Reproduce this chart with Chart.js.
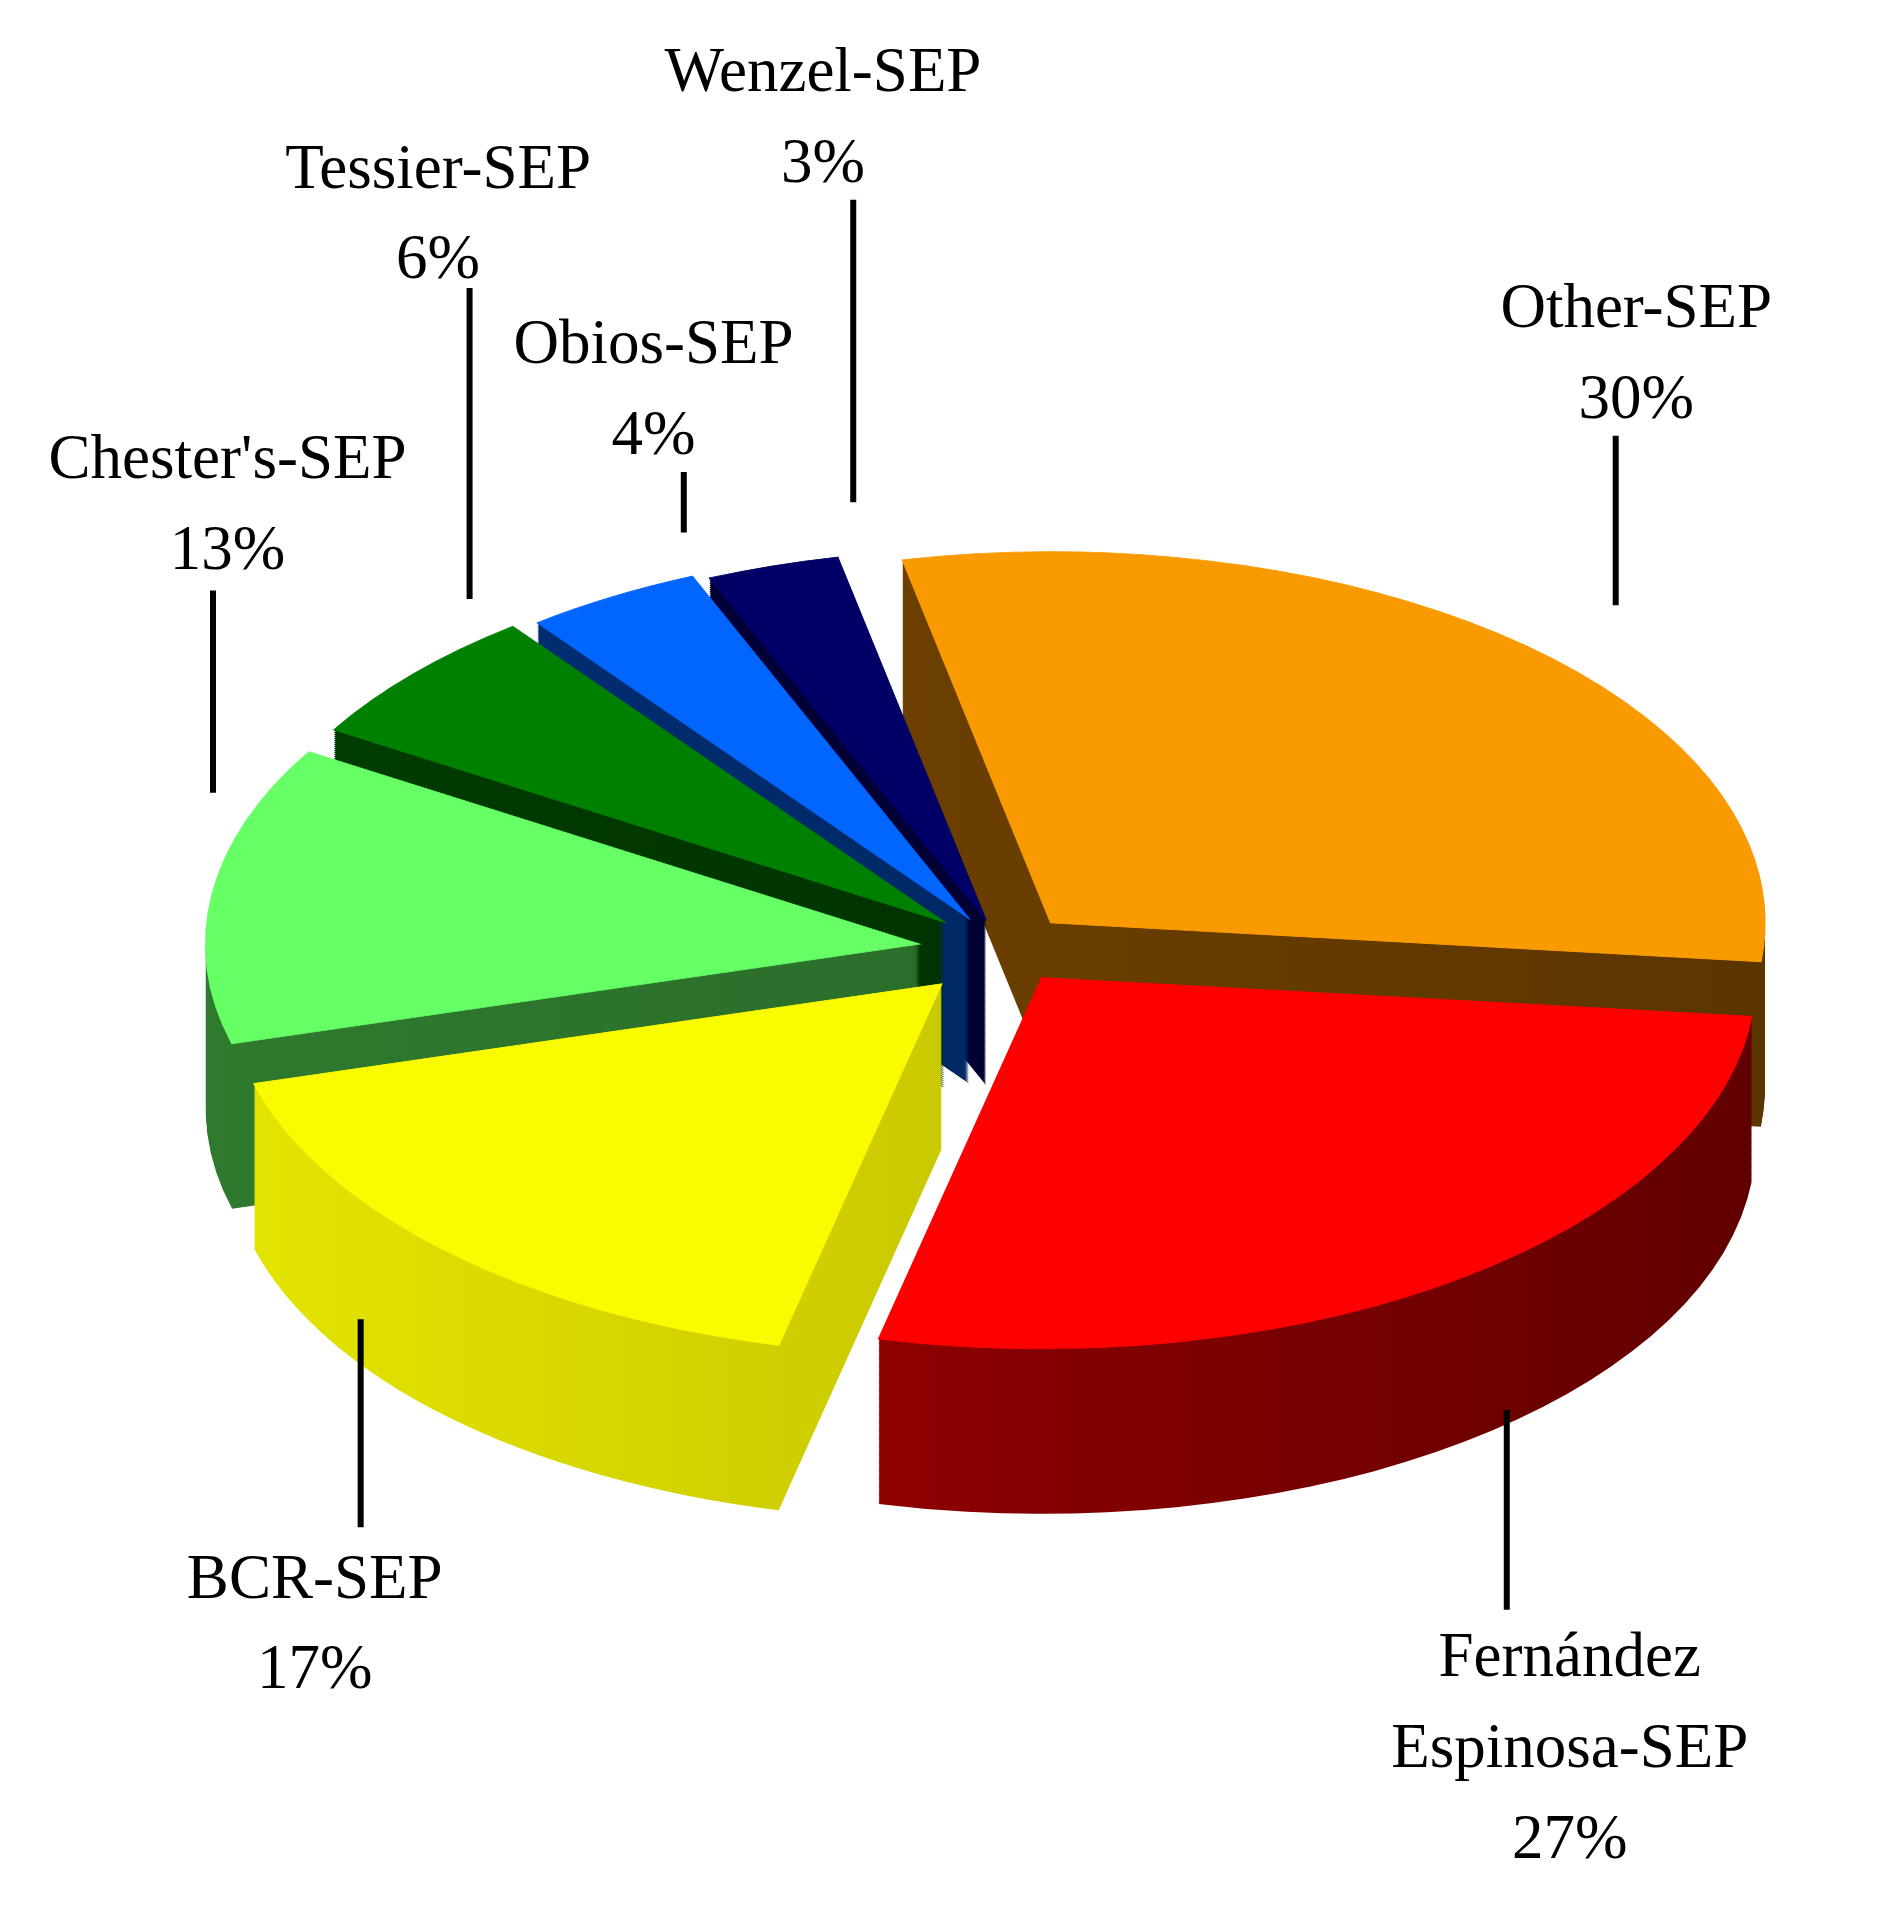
<!DOCTYPE html>
<html><head><meta charset="utf-8">
<script src="https://cdn.jsdelivr.net/npm/chart.js@4.4.0/dist/chart.umd.min.js"></script>
<style>html,body{margin:0;background:#fff}#wrap{width:1888px;height:1915px}</style>
</head><body><div id="wrap"><canvas id="c"></canvas></div>
<script>
const labels = ['Other-SEP', 'Fernández Espinosa-SEP', 'BCR-SEP', "Chester's-SEP", 'Tessier-SEP', 'Obios-SEP', 'Wenzel-SEP'];
const values = [30, 27, 17, 13, 6, 4, 3];
const topColors   = ['#F99B00', '#FF0000', '#FAFA00', '#66FF66', '#008000', '#0066FF', '#000066'];
const sideLight   = ['#7A4800', '#B00000', '#E6E600', '#2F7A2F', '#003D00', '#00307A', '#00003D'];
const sideDark    = ['#5A3400', '#5E0000', '#A8A800', '#246024', '#002A00', '#00204F', '#000028'];
const explode     = [70, 65, 90, 85, 80, 70, 60];

const S = 1888 / 1560;
// label layout (reference coords / S): text centre x, first baseline y, leader line
const labelLayout = [
  { x: 1352, y: 270, lines: ['Other-SEP', '30%'], lx: 1335, ly1: 360, ly2: 500 },
  { x: 1297, y: 1385, lines: ['Fernández', 'Espinosa-SEP', '27%'], lx: 1245, ly1: 1165, ly2: 1330 },
  { x: 260, y: 1320, lines: ['BCR-SEP', '17%'], lx: 298, ly1: 1090, ly2: 1262 },
  { x: 188, y: 395, lines: ["Chester's-SEP", '13%'], lx: 176, ly1: 488, ly2: 655 },
  { x: 362, y: 155, lines: ['Tessier-SEP', '6%'], lx: 388, ly1: 238, ly2: 495 },
  { x: 540, y: 300, lines: ['Obios-SEP', '4%'], lx: 565, ly1: 390, ly2: 440 },
  { x: 680, y: 75, lines: ['Wenzel-SEP', '3%'], lx: 705, ly1: 165, ly2: 415 },
];

const TILT = 0.52, DEPTH = 165;

function arcPath(ctx, a, off) {
  const mid = (a.startAngle + a.endAngle) / 2;
  const cx = a.x + Math.cos(mid) * off, cy = a.y + Math.sin(mid) * off;
  ctx.beginPath();
  ctx.moveTo(cx, cy);
  ctx.arc(cx, cy, a.outerRadius, a.startAngle, a.endAngle);
  ctx.closePath();
}

const pie3d = {
  id: 'pie3d',
  beforeDatasetsDraw(chart) {
    const ctx = chart.ctx;
    const arcs = chart.getDatasetMeta(0).data;
    const cy = arcs[0].y, cx0 = arcs[0].x, R = arcs[0].outerRadius;
    const grads = arcs.map((a, i) => {
      const g = ctx.createLinearGradient(cx0 - R - 100, 0, cx0 + R + 100, 0);
      g.addColorStop(0, sideLight[i]);
      g.addColorStop(1, sideDark[i]);
      return g;
    });
    const withTilt = (dy, fn) => {
      ctx.save();
      ctx.translate(0, cy + dy);
      ctx.scale(1, TILT);
      ctx.translate(0, -cy);
      fn();
      ctx.restore();
    };
    for (let d = DEPTH; d > 0; d -= 2) {
      withTilt(d, () => arcs.forEach((a, i) => {
        arcPath(ctx, a, explode[i]);
        ctx.fillStyle = grads[i];
        ctx.fill();
      }));
    }
    withTilt(0, () => arcs.forEach((a, i) => {
      arcPath(ctx, a, explode[i]);
      ctx.fillStyle = topColors[i];
      ctx.fill();
      ctx.lineWidth = 1.5;
      ctx.strokeStyle = topColors[i];
      ctx.stroke();
    }));
    return false;
  },
  afterDraw(chart) {
    const ctx = chart.ctx;
    ctx.save();
    ctx.fillStyle = '#000';
    ctx.strokeStyle = '#000';
    ctx.lineWidth = 6;
    ctx.font = '63px "Liberation Serif", serif';
    ctx.textAlign = 'center';
    labelLayout.forEach(l => {
      l.lines.forEach((t, k) => ctx.fillText(t, l.x * S, (l.y + k * 75) * S));
      ctx.beginPath();
      ctx.moveTo(l.lx * S, l.ly1 * S);
      ctx.lineTo(l.lx * S, l.ly2 * S);
      ctx.stroke();
    });
    ctx.restore();
  }
};

new Chart(document.getElementById('c'), {
  type: 'pie',
  data: { labels, datasets: [{ data: values, backgroundColor: topColors, borderWidth: 0 }] },
  options: {
    responsive: true,
    maintainAspectRatio: false,
    animation: false,
    rotation: -12,
    layout: { padding: { left: 290, right: 170, top: 230, bottom: 245 } },
    plugins: { legend: { display: false }, tooltip: { enabled: false } },
  },
  plugins: [pie3d],
});
</script></body></html>
